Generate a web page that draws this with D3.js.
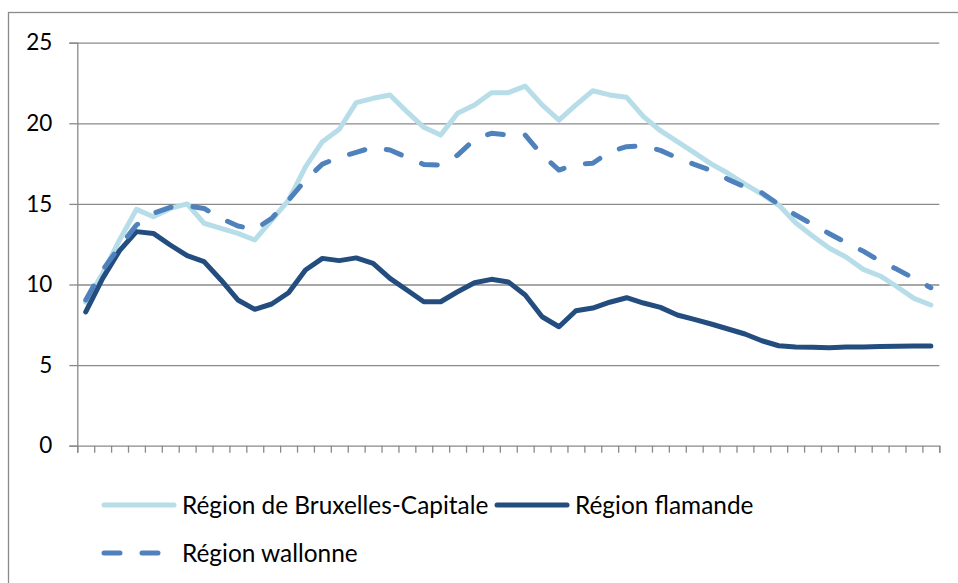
<!DOCTYPE html>
<html>
<head>
<meta charset="utf-8">
<script src="https://cdn.jsdelivr.net/npm/d3@7"></script>
<style>
  body { margin: 0; background: #fff; }
  svg text { font-family: Lato, "Open Sans", sans-serif; fill: #000; }
</style>
</head>
<body>
<svg id="chart" width="958" height="583"></svg>
<script>
// one value per period
const periods = d3.range(1, 52)

const bruxelles = [8.9, 10.7, 12.76, 14.66, 14.2, 14.72, 15.0, 13.8, 13.48, 13.17,
  12.76, 14.0, 15.24, 17.3, 18.86, 19.63, 21.28, 21.55, 21.76, 20.72,
  19.75, 19.27, 20.62, 21.14, 21.9, 21.9, 22.31, 21.14, 20.2, 21.14,
  22.02, 21.76, 21.61, 20.41, 19.54, 18.86, 18.18, 17.48, 16.9, 16.23,
  15.61, 14.93, 13.83, 13.01, 12.25, 11.69, 10.94, 10.53, 9.86, 9.14, 8.73]

const flamande = [8.3, 10.38, 12.1, 13.28, 13.17, 12.45, 11.79, 11.42, 10.28, 9.04,
  8.46, 8.79, 9.49, 10.9, 11.62, 11.48, 11.65, 11.31, 10.38, 9.66,
  8.93, 8.93, 9.55, 10.11, 10.32, 10.16, 9.35, 8.0, 7.38, 8.37,
  8.54, 8.9, 9.18, 8.85, 8.58, 8.11, 7.84, 7.55, 7.24, 6.93,
  6.51, 6.2, 6.12, 6.1, 6.08, 6.12, 6.13, 6.15, 6.17, 6.18, 6.18]

const wallonne = [9.04, 10.9, 12.35, 13.69, 14.42, 14.79, 14.87, 14.72, 14.1, 13.63,
  13.42, 14.1, 15.24, 16.48, 17.47, 17.89, 18.2, 18.51, 18.34, 17.89,
  17.45, 17.41, 18.03, 19.0, 19.38, 19.27, 19.27, 18.03, 17.1, 17.47,
  17.52, 18.24, 18.55, 18.6, 18.32, 17.86, 17.45, 17.07, 16.52, 16.05,
  15.69, 14.97, 14.31, 13.73, 13.15, 12.59, 12.07, 11.45, 10.94, 10.38, 9.8]

const yTicks = [0, 5, 10, 15, 20, 25]

const series = [
  {name: "Région de Bruxelles-Capitale", values: bruxelles, color: "#b7dde8", dash: null},
  {name: "Région flamande", values: flamande, color: "#234d7e", dash: null},
  {name: "Région wallonne", values: wallonne, color: "#4f81bd", dash: "16,22"}
]

const PLOT = {left: 77.3, right: 939.3, top: 42.7, bottom: 445.7}
const GRID = "#8a8a8a"

let svg = d3.select("#chart")

// outer chart frame (runs off the right/bottom of the picture)
svg.append("rect")
  .attr("x", 8.5).attr("y", 12.5)
  .attr("width", 1000).attr("height", 1000)
  .attr("fill", "none")
  .attr("stroke", GRID)
  .attr("stroke-width", 1.3)

let xScale = d3.scaleLinear()
  .domain([0, periods.length])
  .range([PLOT.left, PLOT.right])

let yScale = d3.scaleLinear()
  .domain([0, 25])
  .range([PLOT.bottom, PLOT.top])

// horizontal gridlines
svg.append("g")
  .attr("transform", `translate(${PLOT.left}, 0)`)
  .call(d3.axisRight(yScale).tickValues(yTicks.slice(1)).tickSize(PLOT.right - PLOT.left).tickFormat(""))
  .call(g => g.select(".domain").remove())
  .selectAll("line").attr("stroke", GRID).attr("stroke-width", 1.3)

// y axis
let yAxis = svg.append("g")
  .attr("transform", `translate(${PLOT.left}, 0)`)
  .call(d3.axisLeft(yScale).tickValues(yTicks).tickSize(8).tickPadding(17))
yAxis.select(".domain").attr("stroke", GRID).attr("stroke-width", 1.3)
yAxis.selectAll("line").attr("stroke", GRID).attr("stroke-width", 1.3)
yAxis.selectAll("text").attr("font-size", 22.5).attr("font-family", "Lato, sans-serif").attr("fill", "#000")

// x axis, tick marks only, between categories
let xAxis = svg.append("g")
  .attr("transform", `translate(0, ${PLOT.bottom})`)
  .call(d3.axisBottom(xScale).tickValues(d3.range(periods.length + 1)).tickSize(7).tickFormat(""))
xAxis.select(".domain").attr("stroke", GRID).attr("stroke-width", 1.3)
xAxis.selectAll("line").attr("stroke", GRID).attr("stroke-width", 1.3)

let line = d3.line()
  .x((d, i) => xScale(i + 0.5))
  .y(d => yScale(d))

svg.append("g")
  .selectAll("path")
  .data(series)
  .join("path")
  .attr("d", d => line(d.values))
  .attr("fill", "none")
  .attr("stroke", d => d.color)
  .attr("stroke-width", 5)
  .attr("stroke-linecap", "round")
  .attr("stroke-linejoin", "round")
  .attr("stroke-dasharray", d => d.dash)

// legend
const legendPos = [
  {x: 104, y: 505},
  {x: 497, y: 505},
  {x: 104, y: 553}
]
let legend = svg.append("g")
  .selectAll("g")
  .data(series)
  .join("g")
  .attr("transform", (d, i) => `translate(${legendPos[i].x}, ${legendPos[i].y})`)

legend.append("line")
  .attr("x1", 0).attr("x2", 70)
  .attr("stroke", d => d.color)
  .attr("stroke-width", 5)
  .attr("stroke-linecap", "round")
  .attr("stroke-dasharray", d => d.dash)

legend.append("text")
  .attr("x", 78)
  .attr("dy", "0.36em")
  .attr("font-size", 24.4)
  .text(d => d.name)
</script>
</body>
</html>
